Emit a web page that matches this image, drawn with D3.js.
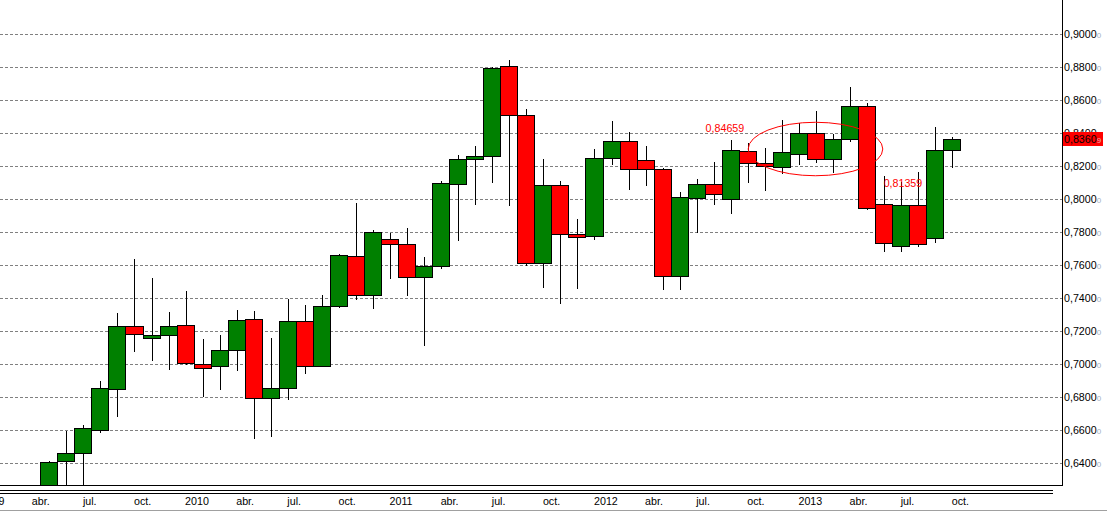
<!DOCTYPE html>
<html>
<head>
<meta charset="utf-8">
<script src="https://cdn.jsdelivr.net/npm/d3@7"></script>
<style>
  body{margin:0;background:#fff;}
  svg{display:block;font-family:"Liberation Sans",Arial,sans-serif;}
</style>
</head>
<body>
<div id="chart"></div>
<script>
'use strict';

// monthly candles, may 2009 -> oct 2013
const months = [
  "2009-05","2009-06","2009-07","2009-08","2009-09","2009-10","2009-11","2009-12",
  "2010-01","2010-02","2010-03","2010-04","2010-05","2010-06","2010-07","2010-08","2010-09","2010-10","2010-11","2010-12",
  "2011-01","2011-02","2011-03","2011-04","2011-05","2011-06","2011-07","2011-08","2011-09","2011-10","2011-11","2011-12",
  "2012-01","2012-02","2012-03","2012-04","2012-05","2012-06","2012-07","2012-08","2012-09","2012-10","2012-11","2012-12",
  "2013-01","2013-02","2013-03","2013-04","2013-05","2013-06","2013-07","2013-08","2013-09","2013-10"
];
const opens = [
  0.5720,0.6412,0.6461,0.6600,0.6846,0.7230,0.7158,0.7176,
  0.7236,0.7000,0.6988,0.7085,0.7273,0.6794,0.6855,0.7261,0.6988,0.7352,0.7655,0.7420,
  0.7758,0.7727,0.7527,0.7594,0.8091,0.8242,0.8259,0.8806,0.8509,0.7612,0.8083,0.7788,
  0.7776,0.8248,0.8352,0.8236,0.8182,0.7535,0.8006,0.8091,0.8000,0.8291,0.8218,0.8194,
  0.8273,0.8400,0.8242,0.8364,0.8564,0.7970,0.7713,0.7962,0.7762,0.8295
];
const highs = [
  0.6415,0.6596,0.6632,0.6899,0.7311,0.7638,0.7523,0.7317,
  0.7444,0.7154,0.7178,0.7329,0.7323,0.7160,0.7396,0.7360,0.7420,0.7669,0.7978,0.7814,
  0.7794,0.7824,0.7648,0.8111,0.8267,0.8321,0.8800,0.8844,0.8547,0.8244,0.8111,0.7881,
  0.8305,0.8475,0.8408,0.8323,0.8188,0.8042,0.8121,0.8226,0.8360,0.8341,0.8311,0.8479,
  0.8461,0.8533,0.8394,0.8679,0.8582,0.8140,0.8105,0.8164,0.8436,0.8378
];
const lows = [
  0.5680,0.6205,0.6120,0.6588,0.6683,0.7077,0.7022,0.6968,
  0.7000,0.6804,0.6847,0.6962,0.6553,0.6566,0.6788,0.6944,0.6985,0.7344,0.7392,0.7337,
  0.7523,0.7420,0.7113,0.7580,0.7754,0.7968,0.8105,0.7962,0.7602,0.7465,0.7368,0.7459,
  0.7758,0.8210,0.8059,0.8083,0.7453,0.7453,0.7802,0.7968,0.7913,0.8101,0.8055,0.8156,
  0.8210,0.8224,0.8164,0.8352,0.7937,0.7683,0.7683,0.7717,0.7738,0.8192
];
const closes = [
  0.6406,0.6461,0.6612,0.6855,0.7230,0.7182,0.7176,0.7230,
  0.7004,0.6976,0.7085,0.7267,0.6794,0.6855,0.7261,0.6988,0.7352,0.7661,0.7420,0.7800,
  0.7727,0.7527,0.7594,0.8097,0.8242,0.8259,0.8794,0.8507,0.7612,0.8085,0.7788,0.7772,
  0.8248,0.8352,0.8182,0.8182,0.7535,0.8012,0.8091,0.8030,0.8297,0.8218,0.8200,0.8285,
  0.8400,0.8242,0.8364,0.8564,0.7945,0.7733,0.7962,0.7725,0.8295,0.83609
];

const priceTicks = [0.64,0.66,0.68,0.70,0.72,0.74,0.76,0.78,0.80,0.82,0.84,0.86,0.88,0.90];

const timeTicks = [
  ["2009-01","2009"],["2009-04","abr."],["2009-07","jul."],["2009-10","oct."],
  ["2010-01","2010"],["2010-04","abr."],["2010-07","jul."],["2010-10","oct."],
  ["2011-01","2011"],["2011-04","abr."],["2011-07","jul."],["2011-10","oct."],
  ["2012-01","2012"],["2012-04","abr."],["2012-07","jul."],["2012-10","oct."],
  ["2013-01","2013"],["2013-04","abr."],["2013-07","jul."],["2013-10","oct."]
];

// text objects placed on the chart (month + fraction of the month, price)
const notes = [
  {month: "2012-08", at: 0.05, price: 0.84659},
  {month: "2013-06", at: 0.5, price: 0.81359}
];
// ellipse drawn around the early 2013 range
const ellipseNote = {month: "2013-02", at: 0.5, price: 0.8303, spanMonths: 3.95, spanPrice: 0.0162};

const monthIndex = s => {
  let [y, m] = s.split("-").map(Number);
  return y * 12 + m - 1;
};
const fmtPrice = v => d3.format(".5f")(v).replace(".", ",");

class CandleChart{
  constructor(p){
    this._width = p.width || 1107;
    this._height = p.height || 511;
    this._plot = p.plot; // right and bottom edges of the drawing area
    this._candles = months.map((m, i) => ({
      month: m, open: opens[i], high: highs[i], low: lows[i], close: closes[i]
    }));
  }

  init(parent){
    this._svg = d3.select(parent).append("svg")
      .attr("width", this._width)
      .attr("height", this._height);

    this._x = d3.scaleLinear()
      .domain([monthIndex(months[0]), monthIndex(months[months.length - 1]) + 1])
      .range([40.3, 960.3]);
    this._y = d3.scaleLinear().domain([0.64, 0.90]).range([463, 34]);

    this._svg.append("defs").append("clipPath").attr("id", "plotClip")
      .append("rect")
      .attr("x", 0).attr("y", 0)
      .attr("width", this._plot.right).attr("height", this._plot.bottom);

    this.drawGrid();
    this.drawCandles();
    this.drawNotes();
    this.drawAxes();
  }

  drawGrid(){
    this._svg.append("g").attr("class", "grid")
      .selectAll("line").data(priceTicks).join("line")
      .attr("x1", 0)
      .attr("x2", this._plot.right)
      .attr("y1", d => Math.round(this._y(d)) + 0.5)
      .attr("y2", d => Math.round(this._y(d)) + 0.5)
      .attr("stroke", "#808080")
      .attr("stroke-dasharray", "3,2");
  }

  drawCandles(){
    let x = this._x, y = this._y;
    let g = this._svg.append("g").attr("class", "candles").attr("clip-path", "url(#plotClip)");
    let left = d => Math.round(x(monthIndex(d.month)));
    let right = d => Math.round(x(monthIndex(d.month) + 1));

    let c = g.selectAll("g.candle").data(this._candles).join("g").attr("class", "candle");

    c.append("line")
      .attr("x1", d => left(d) + 9.5)
      .attr("x2", d => left(d) + 9.5)
      .attr("y1", d => Math.round(y(d.high)))
      .attr("y2", d => Math.round(y(d.low)) + 1)
      .attr("stroke", "#000")
      .attr("stroke-width", 1);

    c.append("rect")
      .attr("x", d => left(d) + 0.5)
      .attr("width", d => right(d) - left(d))
      .attr("y", d => Math.round(y(Math.max(d.open, d.close))) + 0.5)
      .attr("height", d => Math.max(1, Math.round(y(Math.min(d.open, d.close))) - Math.round(y(Math.max(d.open, d.close)))))
      .attr("fill", d => d.close >= d.open ? "#008000" : "#ff0000")
      .attr("stroke", "#000")
      .attr("stroke-width", 1);
  }

  drawNotes(){
    let x = this._x, y = this._y;
    let g = this._svg.append("g").attr("class", "notes").attr("clip-path", "url(#plotClip)");

    g.selectAll("text").data(notes).join("text")
      .attr("x", d => x(monthIndex(d.month) + d.at))
      .attr("y", d => y(d.price))
      .attr("dy", 10.3)
      .attr("font-size", "10.7px")
      .attr("fill", "#ff0000")
      .text(d => fmtPrice(d.price));

    let e = ellipseNote;
    let cx = x(monthIndex(e.month) + e.at);
    g.append("ellipse")
      .attr("cx", cx)
      .attr("cy", y(e.price))
      .attr("rx", x(monthIndex(e.month) + e.at + e.spanMonths) - cx)
      .attr("ry", y(e.price - e.spanPrice) - y(e.price))
      .attr("fill", "none")
      .attr("stroke", "#ff0000")
      .attr("stroke-width", 1);
  }

  drawAxes(){
    let x = this._x, y = this._y, r = this._plot.right, b = this._plot.bottom;
    let axis = this._svg.append("g").attr("class", "axes");

    // frame lines
    axis.append("line").attr("x1", r + 0.5).attr("x2", r + 0.5).attr("y1", 0).attr("y2", b + 1).attr("stroke", "#000");
    axis.append("line").attr("x1", 0).attr("x2", r + 1).attr("y1", b + 0.5).attr("y2", b + 0.5).attr("stroke", "#000");
    axis.append("line").attr("x1", 0).attr("x2", r - 9).attr("y1", b + 5.5).attr("y2", b + 5.5).attr("stroke", "#000");
    axis.append("line").attr("x1", 0).attr("x2", r - 9).attr("y1", b + 8.5).attr("y2", b + 8.5).attr("stroke", "#000");
    axis.append("line").attr("x1", 0).attr("x2", this._width).attr("y1", b + 25.5).attr("y2", b + 25.5).attr("stroke", "#a0a0a0");

    // price labels, last digit drawn small and pale
    let labels = axis.append("g").attr("class", "priceLabels")
      .selectAll("text").data(priceTicks).join("text")
      .attr("x", r + 2)
      .attr("y", d => Math.round(y(d)) + 4)
      .attr("font-size", "10.7px")
      .attr("fill", "#000");
    labels.append("tspan").text(d => fmtPrice(d).slice(0, -1));
    labels.append("tspan").attr("font-size", "8px").attr("fill", "#9fb2c4").text(d => fmtPrice(d).slice(-1));

    // current price marker
    let last = this._candles[this._candles.length - 1].close;
    let ly = y(last);
    axis.append("rect")
      .attr("x", r + 1).attr("y", Math.round(ly) - 7)
      .attr("width", 40).attr("height", 14)
      .attr("fill", "#ff0000");
    let lt = axis.append("text")
      .attr("x", r + 2)
      .attr("y", Math.round(ly) + 4)
      .attr("font-size", "10.7px")
      .attr("fill", "#000");
    lt.append("tspan").text(fmtPrice(last).slice(0, -1));
    lt.append("tspan").attr("font-size", "8px").attr("fill", "#f0b0b0").text(fmtPrice(last).slice(-1));

    // time labels start at the middle of their month
    axis.append("g").attr("class", "timeLabels")
      .selectAll("text").data(timeTicks).join("text")
      .attr("x", d => x(monthIndex(d[0]) + 0.5))
      .attr("y", b + 19.5)
      .attr("font-size", "10.7px")
      .attr("fill", "#000")
      .text(d => d[1]);
  }
}

let chart = new CandleChart({width: 1107, height: 511, plot: {right: 1062, bottom: 485}});
chart.init("#chart");
</script>
</body>
</html>
